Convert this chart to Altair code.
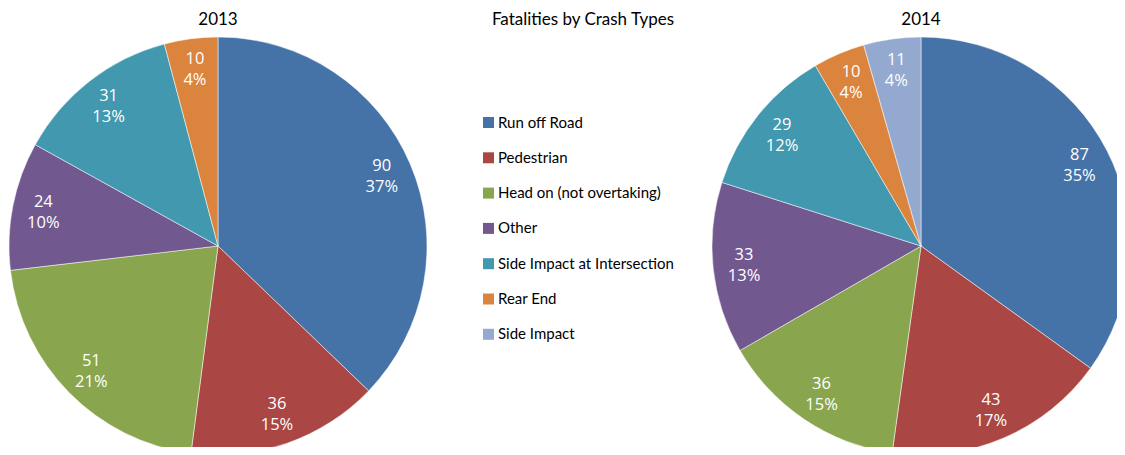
import altair as alt
import pandas as pd

categories = ["Run off Road", "Pedestrian", "Head on (not overtaking)", "Other",
              "Side Impact at Intersection", "Rear End", "Side Impact"]
colors = ["#4572A7", "#AA4643", "#89A54E", "#71588F", "#4198AF", "#DB843D", "#93A9CF"]

cats_2013 = ["Run off Road", "Pedestrian", "Head on (not overtaking)", "Other",
             "Side Impact at Intersection", "Rear End"]
vals_2013 = [90, 36, 51, 24, 31, 10]
pcts_2013 = ["37%", "15%", "21%", "10%", "13%", "4%"]

cats_2014 = ["Run off Road", "Pedestrian", "Head on (not overtaking)", "Other",
             "Side Impact at Intersection", "Rear End", "Side Impact"]
vals_2014 = [87, 43, 36, 33, 29, 10, 11]
pcts_2014 = ["35%", "17%", "15%", "13%", "12%", "4%", "4%"]


def frame(cats, vals, pcts):
    return pd.DataFrame({
        "category": cats,
        "value": vals,
        "idx": list(range(len(cats))),
        "label": [f"{v}\n{p}" for v, p in zip(vals, pcts)],
    })


df13 = frame(cats_2013, vals_2013, pcts_2013)
df14 = frame(cats_2014, vals_2014, pcts_2014)

R = 209
color = alt.Color("category:N", scale=alt.Scale(domain=categories, range=colors),
                  sort=categories,
                  legend=alt.Legend(title=None, orient="none", legendX=473, legendY=107,
                                    symbolType="square", symbolSize=121, symbolStrokeWidth=0,
                                    labelFont="Lato", labelFontSize=15, labelColor="#000000",
                                    rowPadding=19.3, labelOffset=2, padding=0,
                                    labelLimit=300))


def pie(df, cx, cy):
    base = alt.Chart(df).encode(
        theta=alt.Theta("value:Q", stack="normalize"),
        order=alt.Order("idx:Q"),
        x=alt.value(cx), y=alt.value(cy),
    )
    arcs = base.mark_arc(outerRadius=R, stroke="white", strokeWidth=0.5).encode(color=color)
    text = base.mark_text(radius=178, font="Open Sans", fontSize=16.5, color="white",
                          lineBreak="\n", lineHeight=21, baseline="middle",
                          dy=-10).encode(text="label:N")
    return arcs, text


a13, t13 = pie(df13, 210, 238)
a14, t14 = pie(df14, 913, 238)

titles = pd.DataFrame({"t": ["2013", "Fatalities by Crash Types", "2014"],
                       "px": [210, 575, 913]})
title_layer = alt.Chart(titles).mark_text(font="Lato", fontSize=17, color="#000000",
                                          baseline="middle").encode(
    x=alt.X("px:Q", scale=None), y=alt.value(12), text="t:N")

chart = alt.layer(a13, t13, a14, t14, title_layer).properties(
    width=1109, height=439, padding=0, autosize=alt.AutoSizeParams(type="none")
).configure_view(stroke=None)

chart.save("out.html", embed_options={"renderer": "svg", "actions": False})
